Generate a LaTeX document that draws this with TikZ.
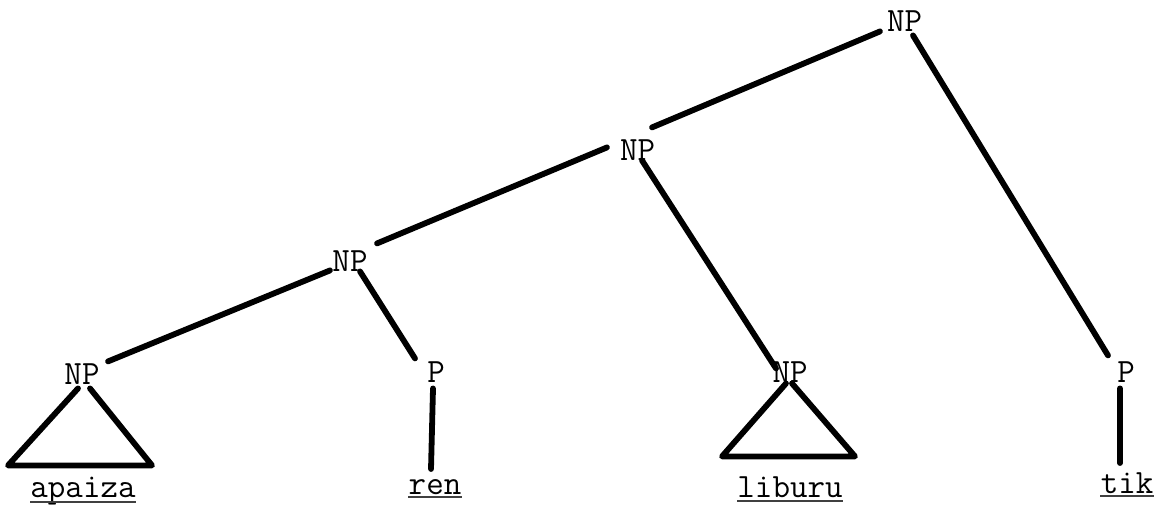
\documentclass[tikz,border=0pt]{standalone}
\usetikzlibrary{calc}
\tikzset{
  lab/.style={inner sep=0pt, anchor=base, font=\ttfamily\fontsize{17pt}{20pt}\selectfont},
  branch/.style={line width=2.9pt, line cap=round, line join=round, black},
  uline/.style={line width=1pt, black!75}
}
\begin{document}
\begin{tikzpicture}[x=0.5pt, y=-0.5pt]
\useasboundingbox (0,0) rectangle (1165,505);
% category labels
\node[lab] (n1) at (904.5,31) {NP};
\node[lab] (n2) at (637.5,160) {NP};
\node[lab] (n3) at (350,271) {NP};
\node[lab] (n4) at (82,384) {NP};
\node[lab] (p1) at (436,382) {P};
\node[lab] (n5) at (790,382) {NP};
\node[lab] (p2) at (1126,382) {P};
% words
\node[lab] (w1) at (83,497) {apaiza};
\node[lab] (w2) at (435,494) {ren};
\node[lab] (w3) at (790,497) {liburu};
\node[lab] (w4) at (1127,493) {tik};
% branches
\draw[branch] ($(n2.center)+(14.5,-22.2)$) -- ($(n1.center)+(-24.5,10.8)$);
\draw[branch] ($(n1.center)+(8.5,14.8)$) -- ($(p2.center)+(-18,-16.2)$);
\draw[branch] ($(n3.center)+(27,-17.2)$) -- ($(n2.center)+(-30.5,-2.2)$);
\draw[branch] ($(n2.center)+(4.5,10.8)$) -- ($(n5.center)+(-14,-3.2)$);
\draw[branch] ($(n4.center)+(26,-12.2)$) -- ($(n3.center)+(-20,9.8)$);
\draw[branch] ($(n3.center)+(10,10.8)$) -- ($(p1.center)+(-21,-13.2)$);
\draw[branch] ($(p1.center)+(-3,16.8)$) -- ($(w2.base)+(-4,-25)$);
\draw[branch] ($(p2.center)+(-6,16.8)$) -- ($(w4.base)+(-7,-30)$);
% triangles
\draw[branch] ($(n4.center)+(-4,14.8)$) -- ($(n4.center)+(-74,91.8)$) -- ($(n4.center)+(70,91.8)$) -- ($(n4.center)+(8,14.8)$);
\draw[branch] ($(n5.center)+(-4,11.8)$) -- ($(n5.center)+(-68,84.8)$) -- ($(n5.center)+(65,84.8)$) -- ($(n5.center)+(2,11.8)$);
% underlines
\foreach \w/\d in {w1/5, w2/3, w3/4, w4/3}{
  \draw[uline] ($(\w.base west)+(0,\d)$) -- ($(\w.base east)+(0,\d)$);
}
\end{tikzpicture}
\end{document}
